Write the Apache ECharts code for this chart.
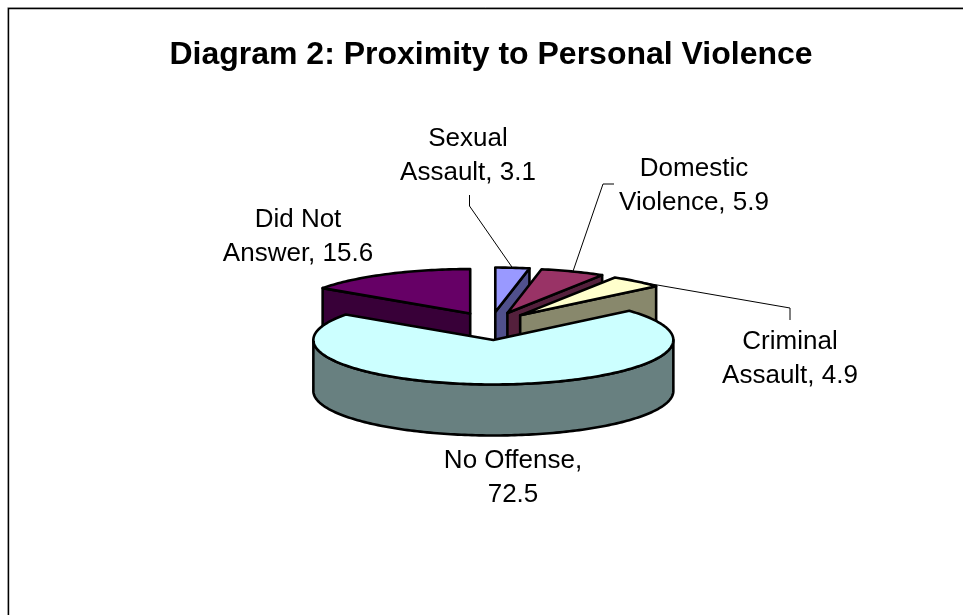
<!DOCTYPE html>
<html>
<head>
<meta charset="utf-8">
<title>Diagram 2</title>
<script src="https://cdn.jsdelivr.net/npm/echarts@6/dist/echarts.min.js"></script>
<style>
html, body { margin: 0; padding: 0; background: #fff; }
#box { width: 963px; height: 615px; }
</style>
</head>
<body>
<div id="box"></div>
<script>
var titleText = 'Diagram 2: Proximity to Personal Violence';
// clockwise from 12 o'clock
var categories = ['Sexual Assault', 'Domestic Violence', 'Criminal Assault', 'No Offense', 'Did Not Answer'];
var values = [3.1, 5.9, 4.9, 72.5, 15.6];
var labelLines = ['Sexual\nAssault, 3.1', 'Domestic\nViolence, 5.9', 'Criminal\nAssault, 4.9', 'No Offense,\n72.5', 'Did Not\nAnswer, 15.6'];

// layout, kept apart from the data
var topColors = ['#9999ff', '#993366', '#ffffcc', '#ccffff', '#660066'];
var sideColors = ['#50508c', '#54203c', '#88886c', '#688080', '#380038'];
var labelPos = [[468, 156], [694, 186], [790, 359], [513, 478], [298, 237]];
var leaderBends = [[[469.5, 206], [469.5, 195]], [[603, 184], [614, 184]], [[790, 308], [790, 320]], null, null];

var cx = 491, cy = 326, rx = 180, ry = 44.5, depth = 51;
var explodeX = 45, explodeY = 14;

var total = values.reduce(function (a, b) { return a + b; }, 0);
var rows = [];
var running = 0;
values.forEach(function (v, i) {
    var a0 = running / total * 2 * Math.PI;
    running += v;
    rows.push({ value: [i, a0, running / total * 2 * Math.PI] });
});
// paint from the back of the pie to the front
rows.sort(function (p, q) {
    return Math.cos((q.value[1] + q.value[2]) / 2) - Math.cos((p.value[1] + p.value[2]) / 2);
});

function onRim(o, a) {
    return [o[0] + rx * Math.sin(a), o[1] - ry * Math.cos(a)];
}
function arcPoints(o, a0, a1) {
    var n = Math.max(2, Math.ceil(Math.abs(a1 - a0) / 0.02));
    var pts = [];
    for (var k = 0; k <= n; k++) pts.push(onRim(o, a0 + (a1 - a0) * k / n));
    return pts;
}
function down(pts) {
    return pts.map(function (p) { return [p[0], p[1] + depth]; });
}
function face(pts, fill) {
    return {
        type: 'polygon',
        shape: { points: pts },
        style: { fill: fill, stroke: '#000', lineWidth: 2.6, lineJoin: 'round' }
    };
}

function renderSlice(params, api) {
    var i = api.value(0), a0 = api.value(1), a1 = api.value(2);
    var mid = (a0 + a1) / 2;
    var o = [cx + explodeX * Math.sin(mid), cy - explodeY * Math.cos(mid)];
    var kids = [];

    // radial walls that turn towards the viewer
    [[a0, Math.sin(a0) < -1e-6], [a1, Math.sin(a1) > 1e-6]].forEach(function (w) {
        if (!w[1]) return;
        var p = onRim(o, w[0]);
        kids.push(face([o, p, [p[0], p[1] + depth], [o[0], o[1] + depth]], sideColors[i]));
    });
    // outer wall, front half only
    var f0 = Math.max(a0, Math.PI / 2), f1 = Math.min(a1, Math.PI * 1.5);
    if (f1 > f0) {
        var rim = arcPoints(o, f0, f1);
        kids.push(face(rim.concat(down(rim).reverse()), sideColors[i]));
    }
    kids.push(face([o].concat(arcPoints(o, a0, a1)), topColors[i]));

    if (leaderBends[i]) {
        kids.push({
            type: 'polyline',
            shape: { points: [onRim(o, mid)].concat(leaderBends[i]) },
            style: { fill: null, stroke: '#000', lineWidth: 1 }
        });
    }
    return { type: 'group', children: kids };
}

function renderLabel(params, api) {
    var i = api.value(0);
    return {
        type: 'text',
        style: {
            text: labelLines[i],
            x: labelPos[i][0],
            y: labelPos[i][1],
            align: 'center',
            verticalAlign: 'middle',
            fontFamily: '"Liberation Sans", Arial, sans-serif',
            fontSize: 26,
            lineHeight: 34,
            fill: '#000'
        }
    };
}

var myChart = echarts.init(document.getElementById('box'), null, { renderer: 'canvas' });
var option = {
    animation: false,
    backgroundColor: '#fff',
    title: {
        text: titleText,
        left: 486,
        top: 34,
        textAlign: 'center',
        textStyle: { fontFamily: '"Liberation Sans", Arial, sans-serif', fontSize: 32, fontWeight: 'bold', color: '#000' }
    },
    graphic: [
        { type: 'polyline', shape: { points: [[7.5, 615], [7.5, 7.5], [963, 7.5]] }, style: { fill: null, stroke: '#c4c4c4', lineWidth: 1 }, silent: true },
        { type: 'polyline', shape: { points: [[8.5, 615], [8.5, 8.5], [963, 8.5]] }, style: { fill: null, stroke: '#000', lineWidth: 1.4 }, silent: true }
    ],
    xAxis: { show: false },
    yAxis: { show: false },
    series: [
        { type: 'custom', coordinateSystem: 'none', silent: true, renderItem: renderSlice, data: rows, z: 2 },
        { type: 'custom', coordinateSystem: 'none', silent: true, renderItem: renderLabel, z: 3,
          data: categories.map(function (c, i) { return { name: c, value: [i] }; }) }
    ]
};
myChart.setOption(option, true);
</script>
</body>
</html>
